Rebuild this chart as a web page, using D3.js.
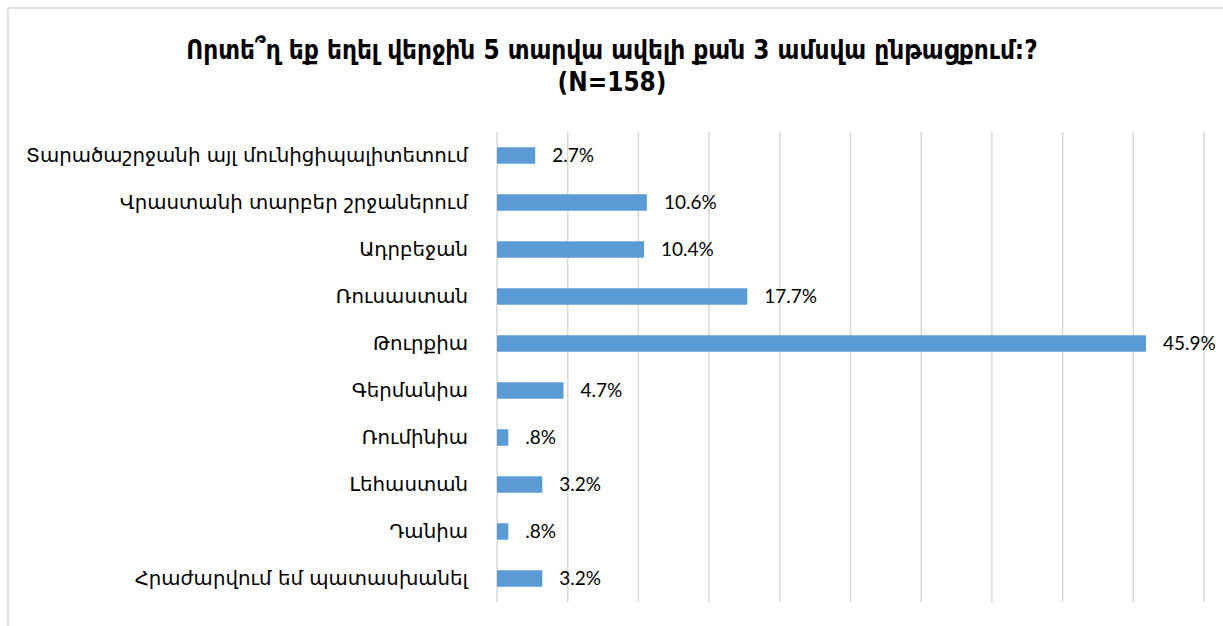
<!DOCTYPE html>
<html>
<head>
    <meta charset="utf-8">
    <title>Որտե՞ղ եք եղել</title>
    <script src="https://cdn.jsdelivr.net/npm/d3@7/dist/d3.min.js"></script>
    <style>
        body { margin: 0; background: #fff; }
    </style>
</head>
<body>
    <svg width="1223" height="626" id="mainsvg"></svg>
    <script>
        // data
        const categories = [
            'Տարածաշրջանի այլ մունիցիպալիտետում',
            'Վրաստանի տարբեր շրջաներում',
            'Ադրբեջան',
            'Ռուսաստան',
            'Թուրքիա',
            'Գերմանիա',
            'Ռումինիա',
            'Լեհաստան',
            'Դանիա',
            'Հրաժարվում եմ պատասխանել'
        ];
        const values = [2.7, 10.6, 10.4, 17.7, 45.9, 4.7, 0.8, 3.2, 0.8, 3.2];
        const xTicks = [0, 5, 10, 15, 20, 25, 30, 35, 40, 45, 50];
        const titleLines = ['Որտե՞ղ եք եղել վերջին 5 տարվա ավելի քան 3 ամսվա ընթացքում:?', '(N=158)'];

        const svg = d3.select('svg');
        const width = +svg.attr('width');
        const height = +svg.attr('height');
        const margin = { top: 132, right: 19, bottom: 24, left: 497 };

        // chart frame (cut by the right and bottom edges)
        svg.append('rect')
            .attr('x', 8).attr('y', 8)
            .attr('width', width).attr('height', height)
            .attr('fill', '#fff')
            .attr('stroke', '#d9d9d9')
            .attr('stroke-width', 1.5);

        const x = d3.scaleLinear().domain([0, 50]).range([margin.left, width - margin.right]);
        const y = d3.scaleBand().domain(categories)
            .range([margin.top, height - margin.bottom])
            .paddingInner(0.65).paddingOuter(0.325);

        // gridlines
        svg.append('g').selectAll('line').data(xTicks).join('line')
            .attr('x1', d => x(d)).attr('x2', d => x(d))
            .attr('y1', margin.top).attr('y2', height - margin.bottom)
            .attr('stroke', '#d9d9d9')
            .attr('stroke-width', 1.5);

        // bars
        svg.append('g').selectAll('rect').data(values).join('rect')
            .attr('x', x(0))
            .attr('y', (d, i) => y(categories[i]))
            .attr('width', d => x(d) - x(0))
            .attr('height', y.bandwidth())
            .attr('fill', '#5b9bd5');

        // value labels
        const fmt = d => d3.format('.1f')(d).replace(/^0\./, '.') + '%';
        svg.append('g').selectAll('text').data(values).join('text')
            .attr('x', d => x(d) + 17)
            .attr('y', (d, i) => y(categories[i]) + y.bandwidth() / 2)
            .attr('dy', '0.35em')
            .attr('font-family', '"Liberation Sans Narrow", Lato, sans-serif')
            .attr('font-size', 19)
            .attr('fill', '#000')
            .text(fmt);

        // category labels
        svg.append('g').selectAll('text').data(categories).join('text')
            .attr('x', 468)
            .attr('y', d => y(d) + y.bandwidth() / 2)
            .attr('dy', '0.35em')
            .attr('text-anchor', 'end')
            .attr('font-family', '"DejaVu Sans", sans-serif')
            .attr('font-size', 19.8)
            .attr('fill', '#000')
            .text(d => d);

        // title
        svg.append('g').selectAll('text').data(titleLines).join('text')
            .attr('x', 612)
            .attr('y', (d, i) => 50 + i * 32)
            .attr('dy', '0.35em')
            .attr('text-anchor', 'middle')
            .attr('font-family', '"DejaVu Sans Condensed", "DejaVu Sans", sans-serif')
            .attr('font-stretch', 'condensed')
            .attr('font-weight', 'bold')
            .attr('font-size', 25.9)
            .attr('fill', '#000')
            .text(d => d);
    </script>
</body>
</html>
